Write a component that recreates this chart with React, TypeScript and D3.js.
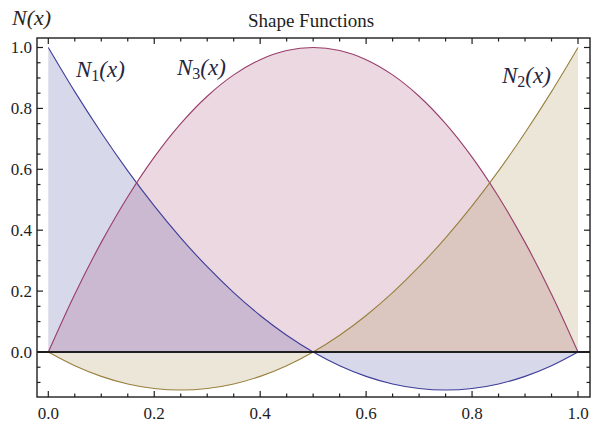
import React from "react";
import * as d3 from "d3";

// Sample positions along the element (0..1)
const xs = [0, 0.05, 0.1, 0.15, 0.2, 0.25, 0.3, 0.35, 0.4, 0.45, 0.5, 0.55, 0.6, 0.65, 0.7, 0.75, 0.8, 0.85, 0.9, 0.95, 1];

// Quadratic shape function values at the sample positions
const n1Values = [1, 0.855, 0.72, 0.595, 0.48, 0.375, 0.28, 0.195, 0.12, 0.055, 0, -0.045, -0.08, -0.105, -0.12, -0.125, -0.12, -0.105, -0.08, -0.045, 0];
const n3Values = [0, 0.19, 0.36, 0.51, 0.64, 0.75, 0.84, 0.91, 0.96, 0.99, 1, 0.99, 0.96, 0.91, 0.84, 0.75, 0.64, 0.51, 0.36, 0.19, 0];
const n2Values = [0, -0.045, -0.08, -0.105, -0.12, -0.125, -0.12, -0.105, -0.08, -0.045, 0, 0.055, 0.12, 0.195, 0.28, 0.375, 0.48, 0.595, 0.72, 0.855, 1];

const xTickLabels = ["0.0", "0.2", "0.4", "0.6", "0.8", "1.0"];
const yTickLabels = ["0.0", "0.2", "0.4", "0.6", "0.8", "1.0"];

const series = [
  { name: "N1", values: n1Values, color: "rgb(61,61,153)" },
  { name: "N3", values: n3Values, color: "rgb(153,61,107)" },
  { name: "N2", values: n2Values, color: "rgb(153,128,61)" },
];

const W = 603;
const H = 428;
const frame = { left: 37, right: 590, top: 38, bottom: 397 };

export default function App() {
  const x = d3.scaleLinear().domain([0, 1]).range([48.3, 578]);
  const y = d3.scaleLinear().domain([0, 1]).range([352, 47.5]);

  const line = d3
    .line<number>()
    .x((_, i) => x(xs[i]))
    .y((d) => y(d))
    .curve(d3.curveCatmullRom);
  const area = d3
    .area<number>()
    .x((_, i) => x(xs[i]))
    .y0(y(0))
    .y1((d) => y(d))
    .curve(d3.curveCatmullRom);

  const serif = "Liberation Serif, DejaVu Serif, serif";
  const ink = "#1e1e1e";

  // minor ticks every 0.05
  const xMinor = d3.range(-0.0, 1.0001, 0.05);
  const yMinor = d3.range(-0.1, 1.0001, 0.05);
  const isMajor = (v: number) => Math.abs(Math.round(v * 5) - v * 5) < 1e-6;

  const labelStyle = {
    fontFamily: serif,
    fontStyle: "italic" as const,
    fontSize: 23,
    fill: "#262640",
  };

  return (
    <svg width={W} height={H} style={{ position: "absolute", left: 0, top: 0, background: "#fff" }}>
      <defs>
        <clipPath id="plotClip">
          <rect x={frame.left} y={frame.top} width={frame.right - frame.left} height={frame.bottom - frame.top} />
        </clipPath>
      </defs>

      <g clipPath="url(#plotClip)">
        {series.map((s) => (
          <path key={s.name + "a"} d={area(s.values) || ""} fill={s.color} fillOpacity={0.2} stroke="none" />
        ))}
        {series.map((s) => (
          <path key={s.name + "l"} d={line(s.values) || ""} fill="none" stroke={s.color} strokeWidth={1.1} />
        ))}
        <line x1={frame.left} x2={frame.right} y1={y(0)} y2={y(0)} stroke={ink} strokeWidth={1.8} />
      </g>

      {/* frame */}
      <rect
        x={frame.left}
        y={frame.top}
        width={frame.right - frame.left}
        height={frame.bottom - frame.top}
        fill="none"
        stroke={ink}
        strokeWidth={1.4}
      />

      {/* x ticks, top and bottom, pointing inward */}
      {xMinor.map((v, i) => {
        const len = isMajor(v) ? 6 : 3.5;
        const px = x(v);
        return (
          <g key={"xt" + i}>
            <line x1={px} x2={px} y1={frame.bottom} y2={frame.bottom - len} stroke={ink} strokeWidth={1.2} />
            <line x1={px} x2={px} y1={frame.top} y2={frame.top + len} stroke={ink} strokeWidth={1.2} />
          </g>
        );
      })}
      {/* y ticks, left and right, pointing inward */}
      {yMinor.map((v, i) => {
        const len = isMajor(v) ? 6 : 3.5;
        const py = y(v);
        return (
          <g key={"yt" + i}>
            <line x1={frame.left} x2={frame.left + len} y1={py} y2={py} stroke={ink} strokeWidth={1.2} />
            <line x1={frame.right} x2={frame.right - len} y1={py} y2={py} stroke={ink} strokeWidth={1.2} />
          </g>
        );
      })}

      {xTickLabels.map((t) => (
        <text key={"xl" + t} x={x(+t)} y={419} textAnchor="middle" fontFamily={serif} fontSize={17} fill={ink}>
          {t}
        </text>
      ))}
      {yTickLabels.map((t) => (
        <text key={"yl" + t} x={32} y={y(+t) + 5.5} textAnchor="end" fontFamily={serif} fontSize={17} fill={ink}>
          {t}
        </text>
      ))}

      <text x={311} y={27} textAnchor="middle" fontFamily={serif} fontSize={19} fill={ink}>
        Shape Functions
      </text>
      <text x={12} y={25} fontFamily={serif} fontStyle="italic" fontSize={22} fill="#2a2418">
        N(x)
      </text>

      <text x={76} y={77} style={labelStyle}>
        N<tspan fontStyle="normal" fontSize={16} dy={4}>1</tspan>
        <tspan dy={-4}>(x)</tspan>
      </text>
      <text x={177} y={75} style={labelStyle}>
        N<tspan fontStyle="normal" fontSize={16} dy={4}>3</tspan>
        <tspan dy={-4}>(x)</tspan>
      </text>
      <text x={502} y={83} style={labelStyle}>
        N<tspan fontStyle="normal" fontSize={16} dy={4}>2</tspan>
        <tspan dy={-4}>(x)</tspan>
      </text>
    </svg>
  );
}
